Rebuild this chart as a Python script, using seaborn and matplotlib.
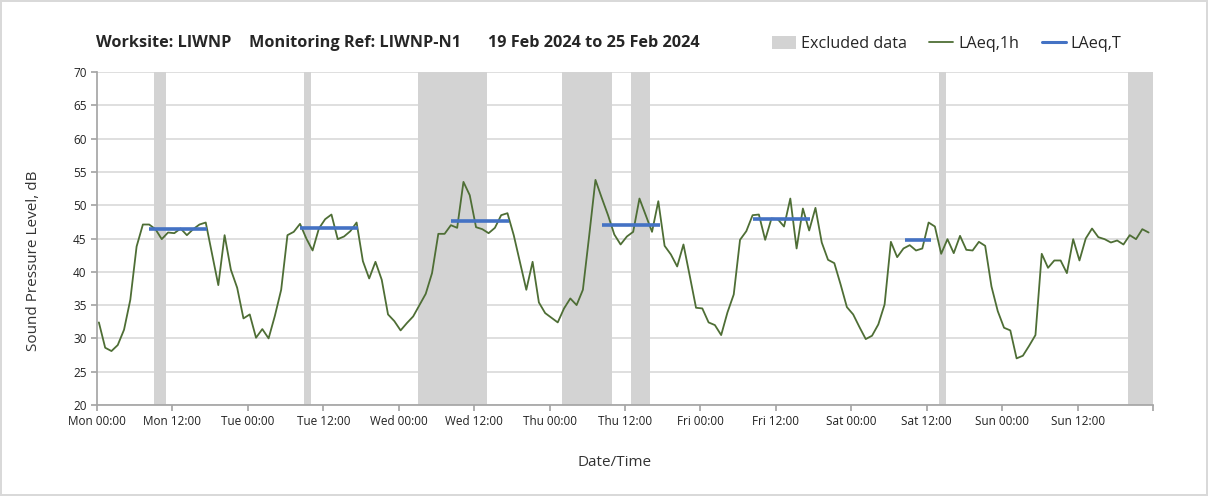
import matplotlib
matplotlib.use("Agg")
import matplotlib.pyplot as plt
from matplotlib.patches import Patch
from matplotlib.lines import Line2D
import seaborn as sns
import numpy as np
import pandas as pd

# Hourly LAeq,1h values, Mon 00:00 -> Sun 23:00
mon = [32.4, 28.6, 28.1, 29.0, 31.3, 35.8, 43.8, 47.1, 47.1, 46.4, 44.9, 45.9,
       45.8, 46.5, 45.5, 46.4, 47.1, 47.4, 42.7, 38.0, 45.5, 40.3, 37.6, 33.0]
tue = [33.6, 30.1, 31.4, 30.0, 33.4, 37.3, 45.5, 46.0, 47.2, 45.0, 43.2, 46.5,
       47.9, 48.6, 44.9, 45.3, 46.1, 47.4, 41.6, 39.0, 41.5, 38.8, 33.6, 32.6]
wed = [31.2, 32.3, 33.3, 35.0, 36.7, 39.8, 45.7, 45.7, 47.0, 46.6, 53.5, 51.5,
       46.7, 46.4, 45.8, 46.6, 48.5, 48.8, 45.5, 41.4, 37.3, 41.5, 35.4, 33.8]
thu = [33.1, 32.4, 34.5, 36.0, 35.0, 37.3, 45.4, 53.8, 51.1, 48.5, 45.6, 44.1,
       45.3, 46.0, 51.0, 48.5, 46.0, 50.6, 43.9, 42.6, 40.8, 44.1, 39.4, 34.6]
fri = [34.5, 32.4, 32.0, 30.5, 33.9, 36.6, 44.8, 46.1, 48.5, 48.6, 44.8, 48.0,
       47.9, 46.8, 51.0, 43.5, 49.5, 46.2, 49.6, 44.4, 41.8, 41.3, 38.1, 34.7]
sat = [33.6, 31.7, 29.9, 30.4, 32.1, 35.1, 44.5, 42.2, 43.5, 44.0, 43.2, 43.5,
       47.4, 46.8, 42.7, 44.9, 42.8, 45.4, 43.3, 43.2, 44.5, 43.9, 37.8, 34.1]
sun = [31.6, 31.2, 27.0, 27.4, 28.9, 30.5, 42.7, 40.6, 41.7, 41.7, 39.8, 44.9,
       41.7, 45.0, 46.5, 45.2, 44.9, 44.4, 44.7, 44.1, 45.5, 44.9, 46.4, 45.9]

# LAeq,T daytime periods (hours from Mon 00:00)
laeqt_start = [8.3, 32.3, 56.3, 80.4, 104.4, 128.5]
laeqt_end = [17.5, 41.5, 65.6, 89.6, 113.5, 132.7]
laeqt_val = [46.5, 46.6, 47.7, 47.0, 48.0, 44.7]

# Excluded data periods (hours from Mon 00:00)
excl_start = [9, 33, 51, 74, 85, 134, 164]
excl_end = [11, 34, 62, 82, 88, 135, 168]

days = ["Mon", "Tue", "Wed", "Thu", "Fri", "Sat", "Sun"]
tick_labels = [f"{d} {h}" for d in days for h in ("00:00", "12:00")] + [""]

laeq1h = mon + tue + wed + thu + fri + sat + sun
df = pd.DataFrame({"hour": np.arange(len(laeq1h)) + 0.3, "LAeq": laeq1h})

sns.set_theme(style="white")
plt.rcParams["font.family"] = ["Open Sans", "DejaVu Sans"]

fig = plt.figure(figsize=(12.08, 4.96), dpi=100)
fig.patch.set_edgecolor("#d9d9d9")
fig.patch.set_linewidth(1.5)
ax = fig.add_axes([97 / 1208, 1 - 405 / 496, (1153 - 97) / 1208, (405 - 72) / 496])

grey = "#d3d3d3"
green = "#4e6e35"
blue = "#4472c4"

for s, e in zip(excl_start, excl_end):
    ax.axvspan(s, e, color=grey, lw=0, zorder=1)

sns.lineplot(data=df, x="hour", y="LAeq", color=green, lw=1.3, ax=ax, zorder=3)
ax.hlines(laeqt_val, laeqt_start, laeqt_end, color=blue, lw=2.6, zorder=4)

ax.set_xlim(0, 168)
ax.set_ylim(20, 70)
ax.set_yticks(np.arange(20, 71, 5))
ax.set_xticks(np.arange(0, 169, 12))
ax.set_xticklabels(tick_labels)
ax.set_xticks(np.arange(0, 169, 24), minor=True)
ax.grid(axis="y", color="#d6d6d6", lw=1.1, zorder=0)
ax.grid(axis="x", which="minor", color="#d6d6d6", lw=1.1, zorder=0)
ax.set_axisbelow(True)
for side in ("top", "right"):
    ax.spines[side].set_visible(False)
for side in ("left", "bottom"):
    ax.spines[side].set_color("#a6a6a6")
ax.tick_params(axis="both", which="major", direction="out", length=4,
               color="#a6a6a6", labelsize=8.5, labelcolor="#222222",
               bottom=True, left=True)
ax.tick_params(axis="x", which="minor", length=0)

ax.set_xlabel("Date/Time", fontsize=11, color="#333333")
ax.set_ylabel("Sound Pressure Level, dB", fontsize=11, color="#333333")
ax.xaxis.set_label_coords(0.4905, -0.174)
ax.yaxis.set_label_coords(-0.0606, 0.432)
ax.xaxis.label.set_va("center")
ax.yaxis.label.set_va("center")

fs_title = 11.7
fig.text(96 / 1208, 1 - 43 / 496, "Worksite: LIWNP", fontsize=fs_title, weight="bold", va="center")
fig.text(249 / 1208, 1 - 43 / 496, "Monitoring Ref: LIWNP-N1", fontsize=fs_title, weight="bold", va="center")
fig.text(488 / 1208, 1 - 43 / 496, "19 Feb 2024 to 25 Feb 2024", fontsize=fs_title, weight="bold", va="center")

handles = [Patch(facecolor=grey, edgecolor="none"),
           Line2D([], [], color=green, lw=1.3),
           Line2D([], [], color=blue, lw=2.2)]
fig.legend(handles, ["Excluded data", "LAeq,1h", "LAeq,T"], ncol=3, frameon=False,
           loc="center right", bbox_to_anchor=(1136 / 1208, 1 - 44 / 496),
           fontsize=11.6, handlelength=1.5, handleheight=0.8, columnspacing=1.4,
           handletextpad=0.3)

fig.savefig("out.png", dpi=100)
